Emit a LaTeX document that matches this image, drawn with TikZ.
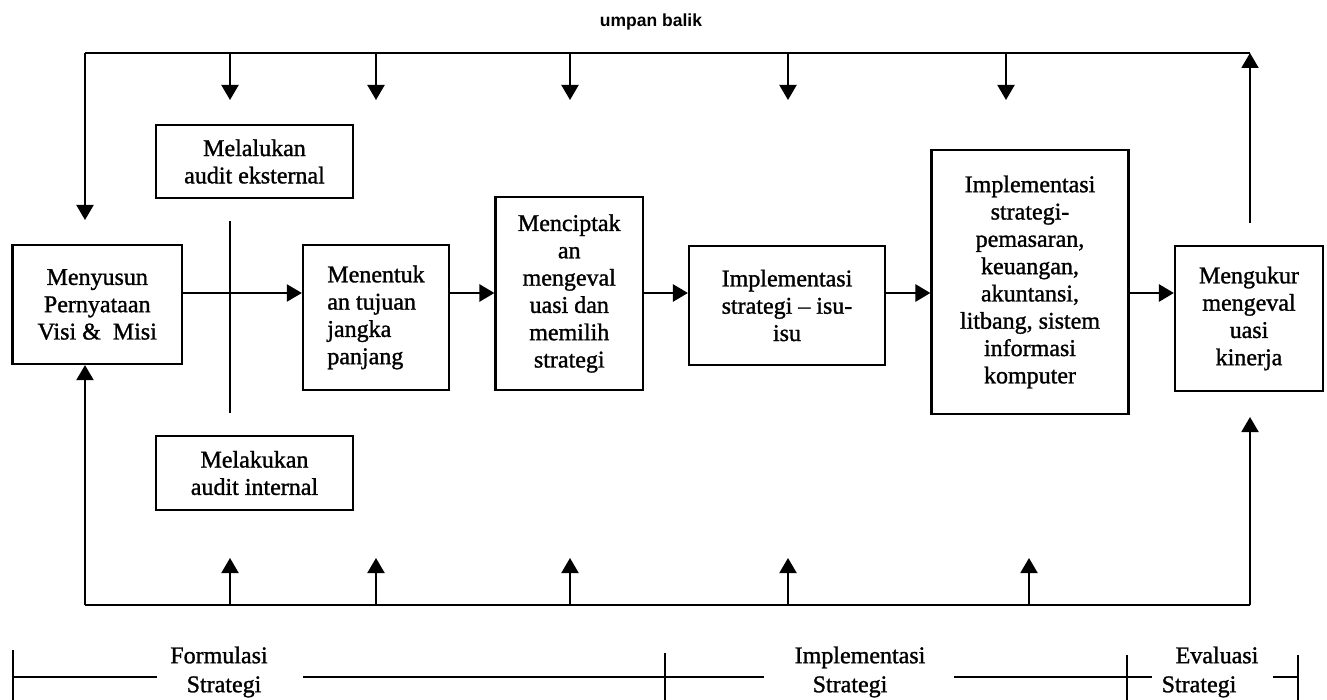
\documentclass[tikz,border=0pt]{standalone}
\usepackage{fontspec}
\setmainfont[FakeBold=1.2]{Liberation Serif}
\newfontfamily\lblsans{Liberation Sans}
\usetikzlibrary{arrows.meta}
\newcommand\bxfont{\fontsize{24}{27.3}\selectfont}
\newcommand\phfont{\fontsize{24}{29}\selectfont}
\tikzset{
  stage/.style={draw, line width=2.2pt, inner sep=0pt, align=center, font=\bxfont},
  link/.style={line width=1.7pt},
  flow/.style={line width=2pt, -{Triangle[length=15pt,width=17pt]}},
  thickflow/.style={line width=2.8pt, -{Triangle[length=15pt,width=17pt]}},
  phase/.style={align=center, font=\phfont, inner sep=0pt},
  tick/.style={line width=2pt},
}
\begin{document}
\begin{tikzpicture}[x=1pt,y=-1pt]
\useasboundingbox (0,0) rectangle (1327,700);

% process stages
\node[stage, minimum width=169.5pt, minimum height=119pt] (vm) at (97.25,304.5)
  {Menyusun\\Pernyataan\\Visi \& \ Misi};
\node[stage, minimum width=197pt, minimum height=73pt] (ae) at (254.5,161.5)
  {Melalukan\\audit eksternal};
\node[stage, minimum width=197pt, minimum height=74pt] (ai) at (254.5,473)
  {Melakukan\\audit internal};
\node[stage, align=left, minimum width=146pt, minimum height=145pt] (tj) at (376,317.5)
  {Menentuk\\an tujuan\\jangka\\panjang};
\node[stage, minimum width=147.5pt, minimum height=193pt] (ms) at (569.25,293.5)
  {Menciptak\\an\\mengeval\\uasi dan\\memilih\\strategi};
\node[stage, minimum width=196pt, minimum height=119pt] (ii) at (787,305.5)
  {Implementasi\\strategi -- isu-\\isu};
\node[stage, minimum width=197pt, minimum height=264pt] (fs) at (1030,282)
  {Implementasi\\strategi-\\pemasaran,\\keuangan,\\akuntansi,\\litbang, sistem\\informasi\\komputer};
\node[stage, minimum width=148pt, minimum height=145pt] (ek) at (1249,318.5)
  {Mengukur\\mengeval\\uasi\\kinerja};

% main flow row
\coordinate (row) at (0,293);
\draw[flow] (vm.east |- row) -- (tj.west |- row);
\draw[thickflow] (tj.east |- row) -- (ms.west |- row);
\draw[thickflow] (ms.east |- row) -- (ii.west |- row);
\draw[thickflow] (ii.east |- row) -- (fs.west |- row);
\draw[thickflow] (fs.east |- row) -- (ek.west |- row);

% line joining the two audits
\coordinate (s1) at (230,221);
\coordinate (s2) at (230,413);
\draw[link] (s1) -- (s2);

% feedback loop (top)
\coordinate (tl) at (85,53);
\coordinate (tr) at (1250,53);
\coordinate (tlend) at (85,220);
\coordinate (ekout) at (1250,223);
\draw[link] (tl) -- (tr);
\draw[flow] (tl) -- (tlend);
\draw[flow] (ekout) -- (tr);
\coordinate (d1) at (230,100);
\coordinate (d2) at (376,100);
\coordinate (d3) at (570,100);
\coordinate (d4) at (788,100);
\coordinate (d5) at (1006,100);
\foreach \d in {d1,d2,d3,d4,d5}
  \draw[flow] (\d |- tl) -- (\d);
\node[font=\lblsans\bfseries\fontsize{17.5}{20}\selectfont, inner sep=0pt] (fb) at (651,22) {umpan balik};

% feedback loop (bottom)
\coordinate (bl) at (85,605);
\coordinate (br) at (1250,605);
\coordinate (ekin) at (1250,417);
\draw[link] (bl) -- (br);
\draw[flow] (bl) -- (bl |- vm.south);
\draw[flow] (br) -- (ekin);
\coordinate (u1) at (230,558);
\coordinate (u2) at (376,558);
\coordinate (u3) at (570,558);
\coordinate (u4) at (788,558);
\coordinate (u5) at (1029,558);
\foreach \u in {u1,u2,u3,u4,u5}
  \draw[flow] (\u |- bl) -- (\u);

% phase scale
\node[phase] (pf) at (219,672) {Formulasi\\\hspace*{10pt}Strategi};
\node[phase] (pi) at (860,672) {Implementasi\\Strategi\hspace*{20pt}};
\node[phase] (pe) at (1203,672) {\hspace*{28pt}Evaluasi\\Strategi\hspace*{8pt}};
\coordinate (k0) at (13,650);
\coordinate (k1) at (665,653);
\coordinate (k2) at (1127,655);
\coordinate (k3) at (1298,655);
\foreach \k in {k0,k1,k2,k3}
  \draw[tick] (\k) -- (\k |- 0,700);
\draw[link] (13,677) -- (157,677);
\draw[link] (303,677) -- (764,677);
\draw[link] (954,677) -- (1152,677);
\draw[link] (1273,677) -- (1298,677);
\end{tikzpicture}
\end{document}
